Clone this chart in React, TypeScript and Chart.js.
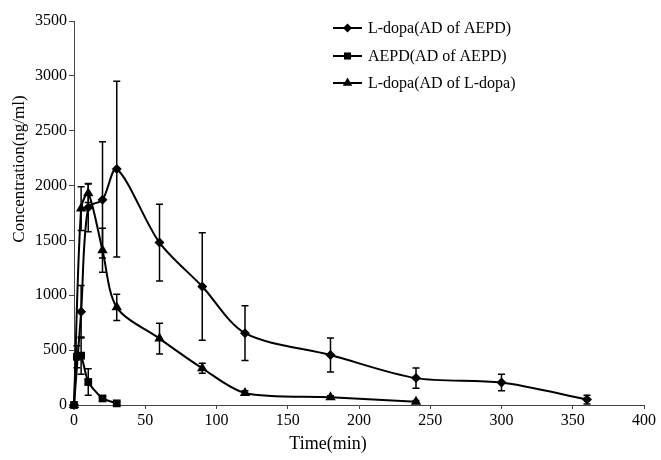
import React, { useEffect, useRef } from 'react';
import { Chart, registerables } from 'chart.js';

Chart.register(...registerables);

// ---- data ----
const seriesLabels = ['L-dopa(AD of AEPD)', 'AEPD(AD of AEPD)', 'L-dopa(AD of L-dopa)'];

const timesLdopaAEPD = [0, 5, 10, 20, 30, 60, 90, 120, 180, 240, 300, 360];
const ldopaAEPD = [0, 850, 1800, 1870, 2150, 1480, 1080, 655, 455, 245, 205, 50];
const ldopaAEPDErr = [0, 240, 220, 530, 800, 350, 490, 250, 155, 92, 75, 40];

const timesAEPD = [0, 2, 5, 10, 20, 30];
const aepd = [0, 440, 450, 210, 60, 15];
const aepdErr = [0, 100, 170, 120, 25, 10];

const timesLdopaLdopa = [0, 5, 10, 20, 30, 60, 90, 120, 180, 240];
const ldopaLdopa = [0, 1790, 1930, 1410, 890, 605, 335, 110, 70, 30];
const ldopaLdopaErr = [0, 200, 85, 200, 120, 140, 45, 20, 15, 10];

const xMin = 0;
const xMax = 400;
const xStep = 50;
const yMin = 0;
const yMax = 3500;
const yStep = 500;

const xTitle = 'Time(min)';
const yTitle = 'Concentration(ng/ml)';

const FONT = "'Liberation Serif', 'DejaVu Serif', serif";
const markerStyles = ['rectRot', 'rect', 'triangle'];
const markerRadii = [5, 5.5, 6];
const tensions = [0.3, 0.2, 0.3];

function toPoints(xs: number[], ys: number[]) {
  return xs.map((x, i) => ({ x, y: ys[i] }));
}

function drawMarker(ctx: CanvasRenderingContext2D, style: string, x: number, y: number, r: number) {
  ctx.beginPath();
  if (style === 'rectRot') {
    ctx.moveTo(x, y - r);
    ctx.lineTo(x + r, y);
    ctx.lineTo(x, y + r);
    ctx.lineTo(x - r, y);
  } else if (style === 'rect') {
    const s = r * Math.SQRT1_2;
    ctx.rect(x - s, y - s, 2 * s, 2 * s);
  } else {
    ctx.moveTo(x, y - r);
    ctx.lineTo(x + 0.866 * r, y + 0.5 * r);
    ctx.lineTo(x - 0.866 * r, y + 0.5 * r);
  }
  ctx.closePath();
  ctx.fill();
}

const errorBarPlugin = {
  id: 'errorBars',
  afterDatasetsDraw(chart: any) {
    const ctx = chart.ctx;
    const yScale = chart.scales.y;
    ctx.save();
    ctx.strokeStyle = '#000';
    ctx.lineWidth = 1.5;
    chart.data.datasets.forEach((ds: any, i: number) => {
      const meta = chart.getDatasetMeta(i);
      meta.data.forEach((pt: any, j: number) => {
        const e = ds.errors ? ds.errors[j] : 0;
        if (!e) return;
        const v = ds.data[j].y;
        const yT = yScale.getPixelForValue(v + e);
        const yB = yScale.getPixelForValue(v - e);
        const x = pt.x;
        ctx.beginPath();
        ctx.moveTo(x, yT);
        ctx.lineTo(x, yB);
        ctx.moveTo(x - 3.5, yT);
        ctx.lineTo(x + 3.5, yT);
        ctx.moveTo(x - 3.5, yB);
        ctx.lineTo(x + 3.5, yB);
        ctx.stroke();
      });
    });
    ctx.restore();
  },
};

const legendAndTitlesPlugin = {
  id: 'legendAndTitles',
  afterDraw(chart: any) {
    const ctx = chart.ctx;
    ctx.save();
    // legend
    const rowsY = [28, 56, 83];
    ctx.font = `16px ${FONT}`;
    ctx.textBaseline = 'middle';
    ctx.textAlign = 'left';
    chart.data.datasets.forEach((ds: any, i: number) => {
      const y = rowsY[i];
      ctx.strokeStyle = '#000';
      ctx.fillStyle = '#000';
      ctx.lineWidth = 2;
      ctx.beginPath();
      ctx.moveTo(333, y);
      ctx.lineTo(362, y);
      ctx.stroke();
      drawMarker(ctx, markerStyles[i], 347.5, y, markerRadii[i] - 0.5);
      ctx.fillText(ds.label, 368, y + 1);
    });
    // axis titles
    ctx.fillStyle = '#000';
    ctx.font = `18px ${FONT}`;
    ctx.textAlign = 'center';
    ctx.textBaseline = 'middle';
    ctx.fillText(xTitle, 328, 444);
    ctx.translate(20, 169);
    ctx.rotate(-Math.PI / 2);
    ctx.font = `17px ${FONT}`;
    ctx.fillText(yTitle, 0, 0);
    ctx.restore();
  },
};

export default function App() {
  const canvasRef = useRef<HTMLCanvasElement | null>(null);

  useEffect(() => {
    if (!canvasRef.current) return;
    const seriesX = [timesLdopaAEPD, timesAEPD, timesLdopaLdopa];
    const seriesY = [ldopaAEPD, aepd, ldopaLdopa];
    const seriesErr = [ldopaAEPDErr, aepdErr, ldopaLdopaErr];
    const datasets = seriesLabels.map((label, i) => ({
      label,
      data: toPoints(seriesX[i], seriesY[i]),
      errors: seriesErr[i],
      borderColor: '#000',
      backgroundColor: '#000',
      borderWidth: 2,
      pointStyle: markerStyles[i],
      pointRadius: markerRadii[i],
      pointBackgroundColor: '#000',
      pointBorderColor: '#000',
      pointBorderWidth: 0,
      showLine: true,
      tension: tensions[i],
      cubicInterpolationMode: 'default',
      clip: false,
    }));

    const chart = new Chart(canvasRef.current, {
      type: 'scatter',
      data: { datasets: datasets as any },
      options: {
        responsive: false,
        animation: false,
        devicePixelRatio: 1,
        layout: { padding: { top: 21, right: 17, left: 0, bottom: 0 } },
        plugins: {
          legend: { display: false },
          tooltip: { enabled: false },
        },
        scales: {
          x: {
            type: 'linear',
            min: xMin,
            max: xMax,
            afterFit: (scale: any) => {
              scale.height = 55;
            },
            ticks: {
              stepSize: xStep,
              color: '#000',
              font: { family: FONT, size: 16 },
              padding: 2,
              maxRotation: 0,
              callback: (v: any) => String(v),
            },
            grid: {
              drawOnChartArea: false,
              drawTicks: true,
              tickLength: 4,
              color: '#444',
            },
            border: { display: true, color: '#444', width: 1 },
            title: { display: false, text: xTitle },
          },
          y: {
            type: 'linear',
            min: yMin,
            max: yMax,
            afterFit: (scale: any) => {
              scale.width = 74;
            },
            ticks: {
              stepSize: yStep,
              color: '#000',
              font: { family: FONT, size: 16 },
              padding: 2,
              callback: (v: any) => String(v),
            },
            grid: {
              drawOnChartArea: false,
              drawTicks: true,
              tickLength: 5,
              color: '#444',
            },
            border: { display: true, color: '#444', width: 1 },
            title: { display: false, text: yTitle },
          },
        },
      },
      plugins: [errorBarPlugin, legendAndTitlesPlugin],
    });
    return () => chart.destroy();
  }, []);

  return (
    <div style={{ position: 'fixed', left: 0, top: 0, width: 661, height: 460, background: '#fff' }}>
      <canvas ref={canvasRef} width={661} height={460} style={{ width: 661, height: 460 }} />
    </div>
  );
}
